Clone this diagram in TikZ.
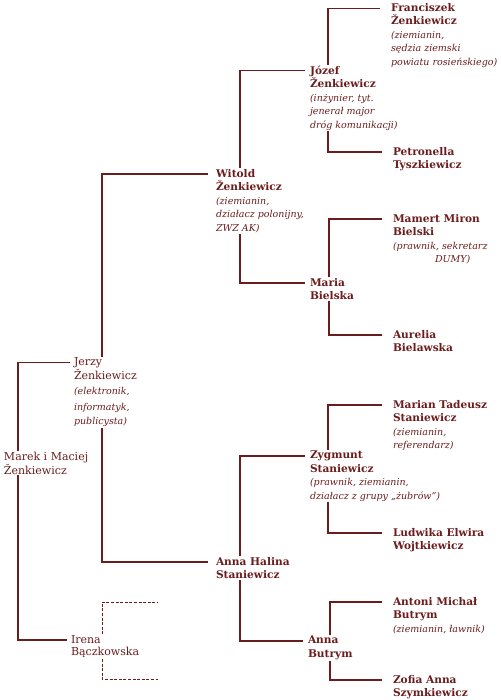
\documentclass[tikz,border=0pt]{standalone}
\usepackage{fontspec}
\setmainfont{DejaVu Serif}
\definecolor{mr}{HTML}{6B1C1C}
\newcommand\cmt[1]{{\fontsize{9.5}{13.5}\selectfont\mdseries\itshape #1}}
\begin{document}
\begin{tikzpicture}[x=1pt,y=-1pt,
  person/.style={anchor=north west, align=left, inner ysep=1pt, outer sep=0pt, text=mr, font=\fontsize{10.6}{13.5}\selectfont\bfseries},
  cfour/.style={person, inner xsep=11pt},
  cthree/.style={person, inner xsep=5pt},
  ctwo/.style={person, inner xsep=8pt},
  cone/.style={person, inner xsep=4pt, font=\fontsize{11}{12.5}\selectfont},
  link/.style={draw=mr, line width=1.2pt},
  dlink/.style={draw=mr, line width=1pt, dash pattern=on 3pt off 1.6pt}]
\useasboundingbox (0,0) rectangle (500,700);
% nodes
\node[cfour]  (fr) at (380,2.3) {Franciszek\\Ženkiewicz\\\cmt{(ziemianin,}\\\cmt{sędzia ziemski}\\\cmt{powiatu rosieńskiego)}};
\node[cthree] (jo) at (305,64.7) {Józef\\Ženkiewicz\\\cmt{(inżynier, tyt.}\\\cmt{jenerał major}\\\cmt{dróg komunikacji)}};
\node[cfour]  (pe) at (382,146) {Petronella\\Tyszkiewicz};
\node[ctwo]   (wi) at (208,168) {Witold\\Ženkiewicz\\\cmt{(ziemianin,}\\\cmt{działacz polonijny,}\\\cmt{ZWZ AK)}};
\node[cfour]  (ma) at (382,213) {Mamert Miron\\Bielski\\\cmt{(prawnik, sekretarz}\\\hspace*{42pt}\cmt{DUMY)}};
\node[cthree] (mar) at (305,277) {Maria\\Bielska};
\node[cfour]  (au) at (382,329) {Aurelia\\Bielawska};
\node[cone]   (je) at (70,356.8) {Jerzy\\Ženkiewicz\\[3pt]\cmt{(elektronik,}\\[3pt]\cmt{informatyk,}\\[2pt]\cmt{publicysta)}};
\node[cone, inner xsep=3pt] (mk) at (1,451) {Marek i Maciej\\Ženkiewicz};
\node[cfour]  (mt) at (382,399) {Marian Tadeusz\\Staniewicz\\\cmt{(ziemianin,}\\\cmt{referendarz)}};
\node[cthree] (zy) at (305,450) {Zygmunt\\Staniewicz\\\cmt{(prawnik, ziemianin,}\\\cmt{działacz z grupy „żubrów”)}};
\node[cfour]  (lu) at (382,527) {Ludwika Elwira\\Wojtkiewicz};
\node[ctwo]   (ah) at (208,556) {Anna Halina\\Staniewicz};
\node[cfour]  (am) at (382,596) {Antoni Michał\\Butrym\\\cmt{(ziemianin, ławnik)}};
\node[cthree] (ab) at (303,635) {Anna\\Butrym};
\node[cfour]  (zo) at (382,674) {Zofia Anna\\Szymkiewicz};
\node[cone]   (ir) at (67,634.4) {Irena\\Bączkowska};
\coordinate (irf) at (158,602);
\coordinate (irm) at (158,679);
% connectors
\draw[link] ([xshift=17pt]mk.north west) |- ([yshift=-5.6pt]je.north west);
\draw[link] ([xshift=17pt]mk.south west) |- ([yshift=-5.6pt]ir.north west);
\draw[link] ([xshift=32pt]je.north west) |- ([yshift=-6pt]wi.north west);
\draw[link] ([xshift=32pt]je.south west) |- ([yshift=-6pt]ah.north west);
\draw[link] ([xshift=32pt]wi.north west) |- ([yshift=-6pt]jo.north west);
\draw[link] ([xshift=32pt]wi.south west) |- ([yshift=-6pt]mar.north west);
\draw[link] ([xshift=23pt]jo.north west) |- ([yshift=-6pt]fr.north west);
\draw[link] ([xshift=23pt]jo.south west) |- ([yshift=-6pt]pe.north west);
\draw[link] ([xshift=24pt]mar.north west) |- ([yshift=-6pt]ma.north west);
\draw[link] ([xshift=24pt]mar.south west) |- ([yshift=-6pt]au.north west);
\draw[link] ([xshift=32pt]ah.north west) |- ([yshift=-6pt]zy.north west);
\draw[link] ([xshift=32pt]ah.south west) |- ([yshift=-6pt]ab.north west);
\draw[link] ([xshift=23pt]zy.north west) |- ([yshift=-6pt]mt.north west);
\draw[link] ([xshift=23pt]zy.south west) |- ([yshift=-6pt]lu.north west);
\draw[link] ([xshift=27pt]ab.north west) |- ([yshift=-6pt]am.north west);
\draw[link] ([xshift=27pt]ab.south west) |- ([yshift=-6pt]zo.north west);
\draw[dlink] ([xshift=35pt]ir.north west) |- (irf);
\draw[dlink] ([xshift=35pt]ir.south west) |- (irm);
\end{tikzpicture}
\end{document}
